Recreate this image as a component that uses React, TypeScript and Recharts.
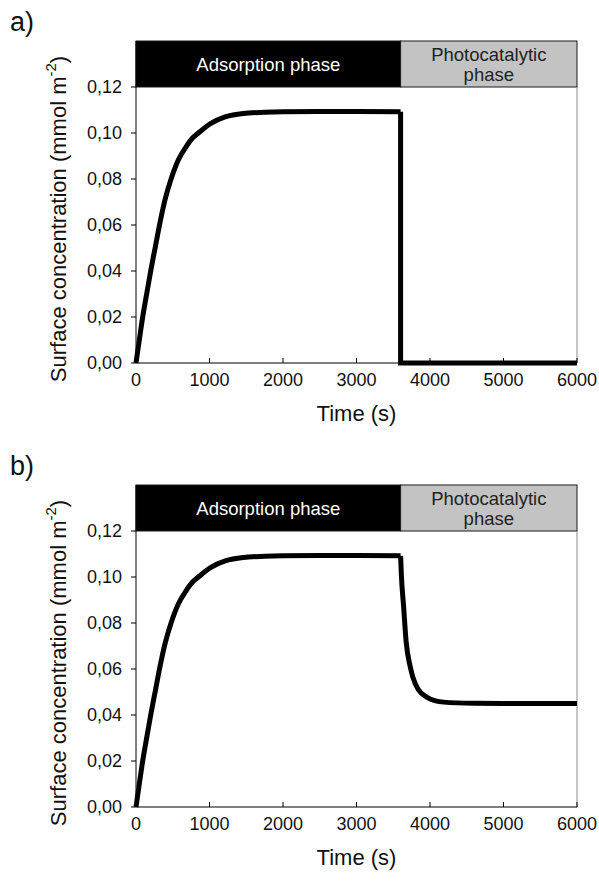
import { LineChart, Line, XAxis, YAxis, ReferenceArea, ReferenceLine } from "recharts"

const FONT = '"Liberation Sans", Arial, sans-serif'

// ─── Data ─────────────────────────────────────────────────────────────────────

// adsorption phase, identical in both panels: time (s) / surface conc. (mmol m-2)
const adsorptionTime = [0, 45, 91, 145, 200, 260, 320, 395, 477, 577, 681, 760, 849, 1008, 1213, 1458, 1750, 2000, 2500, 3000, 3600]
const adsorptionConc = [0, 0.01, 0.02, 0.03, 0.04, 0.05, 0.06, 0.071, 0.08, 0.0884, 0.094, 0.0975, 0.1, 0.104, 0.107, 0.1085, 0.109, 0.1092, 0.1093, 0.1093, 0.1092]

// a) photocatalytic phase: drops straight to zero
const photoTimeA = [3600, 3600, 6000]
const photoConcA = [0.1092, 0, 0]

// b) photocatalytic phase: decays to a new plateau
const photoTimeB = [3600, 3610, 3642, 3674, 3733, 3801, 3960, 4187, 4600, 5000, 6000]
const photoConcB = [0.1092, 0.1012, 0.0867, 0.0723, 0.0607, 0.0535, 0.0477, 0.0456, 0.0451, 0.045, 0.045]

const xTicks = [0, 1000, 2000, 3000, 4000, 5000, 6000]
const yTicks = [0, 0.02, 0.04, 0.06, 0.08, 0.1, 0.12]

const PHASE_SWITCH = 3600
const X_MAX = 6000
const HEADER_LOW = 0.12
const HEADER_HIGH = 0.14

type Pt = { time: number; conc: number }

function buildSeries(time: number[], conc: number[]): Pt[] {
  return time.map((t, i) => ({ time: t, conc: conc[i] }))
}

const adsorption = buildSeries(adsorptionTime, adsorptionConc)
const photoA = buildSeries(photoTimeA, photoConcA)
const photoB = buildSeries(photoTimeB, photoConcB)

// ─── Pieces ───────────────────────────────────────────────────────────────────

function PhaseBox(props: any) {
  const { x, y, width, height, fill, textColor, lines } = props
  const cx = x + width / 2
  const cy = y + height / 2
  return (
    <g>
      <rect x={x} y={y} width={width} height={height} fill={fill} stroke="#1a1a1a" strokeWidth={1} />
      <text fill={textColor} fontSize={18.5} fontFamily={FONT} textAnchor="middle">
        {lines.map((l: string, i: number) => (
          <tspan key={i} x={cx} y={cy + (i - (lines.length - 1) / 2) * 20} dominantBaseline="central">
            {l}
          </tspan>
        ))}
      </text>
    </g>
  )
}

function YTitle({ viewBox }: any) {
  const vb = viewBox || { x: 0, y: 41, width: 136, height: 322 }
  const cx = vb.x + 58
  const cy = vb.y + vb.height / 2 + 17
  return (
    <text
      x={cx}
      y={cy}
      transform={`rotate(-90 ${cx} ${cy})`}
      textAnchor="middle"
      dominantBaseline="central"
      fontSize={22}
      fontFamily={FONT}
      fill="#111"
    >
      Surface concentration (mmol m
      <tspan dy={-8} fontSize={15}>-2</tspan>
      <tspan dy={8}>)</tspan>
    </text>
  )
}

function XTitle({ viewBox }: any) {
  const vb = viewBox || { x: 136, y: 363, width: 441, height: 82 }
  return (
    <text x={vb.x + vb.width / 2} y={vb.y + 58} textAnchor="middle" fontSize={22} fontFamily={FONT} fill="#111">
      Time (s)
    </text>
  )
}

function Panel({ tag, photo, photoCurve, top }: { tag: string; photo: Pt[]; photoCurve: "linear" | "monotone"; top: number }) {
  return (
    <div style={{ position: "absolute", left: 0, top, width: 599, height: 445 }}>
      <div style={{ position: "absolute", left: 10, top: 9, fontSize: 27, lineHeight: 1, fontFamily: FONT, color: "#111" }}>
        {tag}
      </div>
      <LineChart width={599} height={445} margin={{ top: 41, right: 22, bottom: 0, left: 0 }}>
        <ReferenceArea
          x1={0}
          x2={PHASE_SWITCH}
          y1={HEADER_LOW}
          y2={HEADER_HIGH}
          shape={(p: any) => <PhaseBox {...p} fill="#000" textColor="#fff" lines={["Adsorption phase"]} />}
        />
        <ReferenceArea
          x1={PHASE_SWITCH}
          x2={X_MAX}
          y1={HEADER_LOW}
          y2={HEADER_HIGH}
          shape={(p: any) => <PhaseBox {...p} fill="#c3c3c3" textColor="#222" lines={["Photocatalytic", "phase"]} />}
        />
        <ReferenceLine
          segment={[{ x: X_MAX, y: 0 }, { x: X_MAX, y: HEADER_LOW }]}
          stroke="#8a8a8a"
          strokeWidth={1}
        />
        <XAxis
          type="number"
          dataKey="time"
          domain={[0, X_MAX]}
          ticks={xTicks}
          interval={0}
          height={82}
          tickSize={-5}
          tickMargin={15}
          axisLine={{ stroke: "#000" }}
          tickLine={{ stroke: "#000" }}
          tick={{ fontSize: 18, fill: "#111", fontFamily: FONT }}
          label={<XTitle />}
        />
        <YAxis
          type="number"
          domain={[0, HEADER_HIGH]}
          ticks={yTicks}
          interval={0}
          width={136}
          tickSize={5}
          tickMargin={9}
          tickFormatter={(v: number) => v.toFixed(2).replace(".", ",")}
          axisLine={{ stroke: "#000" }}
          tickLine={{ stroke: "#000" }}
          tick={{ fontSize: 18, fill: "#111", fontFamily: FONT }}
          label={<YTitle />}
        />
        <Line
          data={adsorption}
          type="monotone"
          dataKey="conc"
          stroke="#000"
          strokeWidth={5}
          strokeLinejoin="round"
          dot={false}
          isAnimationActive={false}
        />
        <Line
          data={photo}
          type={photoCurve}
          dataKey="conc"
          stroke="#000"
          strokeWidth={5}
          strokeLinejoin="miter"
          dot={false}
          isAnimationActive={false}
        />
      </LineChart>
    </div>
  )
}

export default function App() {
  return (
    <div style={{ position: "absolute", left: 0, top: 0, width: 599, height: 890, background: "#fff" }}>
      <Panel tag="a)" photo={photoA} photoCurve="linear" top={0} />
      <Panel tag="b)" photo={photoB} photoCurve="monotone" top={444} />
    </div>
  )
}
